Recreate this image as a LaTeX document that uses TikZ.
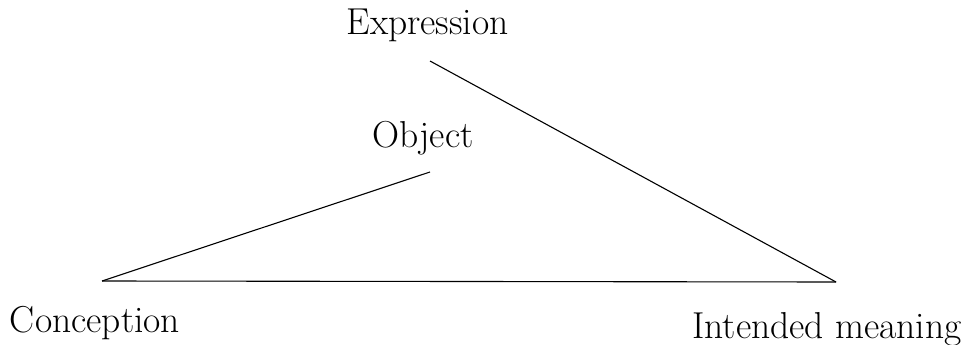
\documentclass[tikz,border=0pt]{standalone}
\usepackage{fontspec}
\usetikzlibrary{positioning}

\begin{document}
\begin{tikzpicture}[x=1pt,y=-1pt,line width=1.1pt,
  lbl/.style={anchor=base,inner sep=0pt,font=\fontsize{37.5}{44}\selectfont}]
  \useasboundingbox (0,0) rectangle (963,345);
  \node[lbl] (expr) at (427.5,35) {Expression};\node[lbl] (obj) at (423,147) {Object};
  \node[lbl] (concept) at (95,332) {Conception};\node[lbl] (meaning) at (827,338) {Intended meaning};
  \coordinate (e) at (430,61);\coordinate (o) at (430,172);\coordinate (c) at (102,281);\coordinate (m) at (836,282);
  \draw (e)--(m);\draw (o)--(c);\draw (c)--(m);
\end{tikzpicture}
\end{document}
